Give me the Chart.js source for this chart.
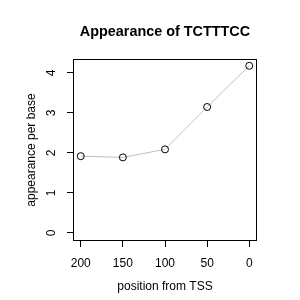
<!DOCTYPE html>
<html>
<head>
<meta charset="utf-8">
<script src="https://cdn.jsdelivr.net/npm/chart.js@4/dist/chart.umd.min.js"></script>
<style>
  html, body { margin: 0; padding: 0; background: #fff; }
  #wrap { width: 300px; height: 300px; }
</style>
</head>
<body>
<div id="wrap"><canvas id="c" width="300" height="300"></canvas></div>
<script>
const titleText = "Appearance of TCTTTCC";
const xTitle = "position from TSS";
const yTitle = "appearance per base";
const positions = [200, 150, 100, 50, 0];
const appearance = [1.92, 1.89, 2.09, 3.15, 4.18];
const xTicks = [200, 150, 100, 50, 0];
const yTicks = [0, 1, 2, 3, 4];

const FONT = "'Liberation Sans', Arial, Helvetica, sans-serif";

const framePlugin = {
  id: 'frame',
  afterDraw(chart) {
    const a = chart.chartArea, ctx = chart.ctx;
    ctx.save();
    ctx.strokeStyle = '#000';
    ctx.lineWidth = 1;
    ctx.strokeRect(Math.round(a.left) - 0.5, Math.round(a.top) - 0.5,
                   Math.round(a.right - a.left) + 1, Math.round(a.bottom - a.top) + 1);
    // rotated y tick labels (R style)
    const s = chart.scales.y;
    ctx.font = '12px ' + FONT;
    ctx.fillStyle = '#000';
    ctx.textAlign = 'center';
    ctx.textBaseline = 'middle';
    s.ticks.forEach(t => {
      const y = s.getPixelForValue(t.value);
      ctx.save();
      ctx.translate(a.left - 22, y);
      ctx.rotate(-Math.PI / 2);
      ctx.fillText(String(t.value), 0, 0);
      ctx.restore();
    });
    ctx.restore();
  }
};

new Chart(document.getElementById('c'), {
  type: 'line',
  data: {
    datasets: [{
      data: positions.map((p, i) => ({ x: p, y: appearance[i] })),
      borderColor: '#bebebe',
      borderWidth: 1,
      pointRadius: 3.5,
      pointBorderColor: '#000',
      pointBackgroundColor: 'rgba(0,0,0,0)',
      pointBorderWidth: 1,
      tension: 0,
      fill: false
    }]
  },
  options: {
    responsive: false,
    animation: false,
    devicePixelRatio: 1,
    layout: { padding: { left: 0, right: 44, top: 0, bottom: 0 } },
    plugins: {
      legend: { display: false },
      tooltip: { enabled: false },
      title: {
        display: true,
        text: titleText,
        fullSize: false,
        color: '#000',
        font: { family: FONT, size: 14.4, weight: 'bold' },
        padding: { top: 23.4, bottom: 19.3 }
      }
    },
    scales: {
      x: {
        type: 'linear',
        reverse: true,
        min: -8,
        max: 208,
        afterBuildTicks(scale) { scale.ticks = xTicks.map(v => ({ value: v })); },
        afterFit(scale) { scale.height = 60; },
        grid: { display: true, drawOnChartArea: false, drawTicks: true, tickLength: 7, color: '#000', tickColor: '#000', lineWidth: 1 },
        border: { display: false },
        ticks: { color: '#000', font: { family: FONT, size: 12 }, padding: 9, maxRotation: 0, autoSkip: false },
        title: { display: true, text: xTitle, color: '#000', font: { family: FONT, size: 12 }, padding: { top: 0, bottom: 6 } }
      },
      y: {
        type: 'linear',
        min: -0.175,
        max: 4.325,
        afterBuildTicks(scale) { scale.ticks = yTicks.map(v => ({ value: v })); },
        afterFit(scale) { scale.width = 74; },
        grid: { display: true, drawOnChartArea: false, drawTicks: true, tickLength: 7, color: '#000', tickColor: '#000', lineWidth: 1 },
        border: { display: false },
        ticks: { display: false },
        title: { display: true, text: yTitle, color: '#000', font: { family: FONT, size: 12 }, padding: { top: 24.8, bottom: 0 } }
      }
    }
  },
  plugins: [framePlugin]
});
</script>
</body>
</html>
